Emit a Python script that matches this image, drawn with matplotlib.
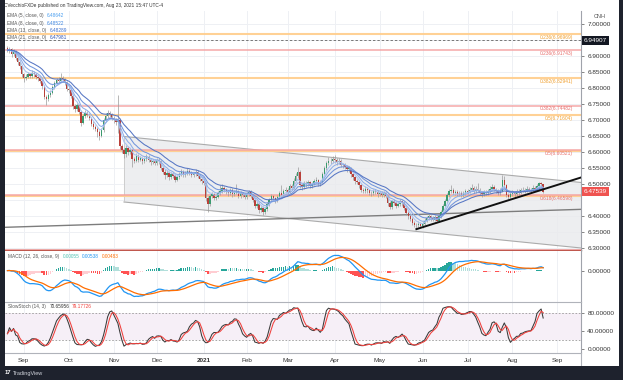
import numpy as np
import pandas as pd
import matplotlib
matplotlib.use('Agg')
import matplotlib.pyplot as plt
from matplotlib.patches import Polygon, Rectangle

plt.rcParams['font.family'] = ['Liberation Sans', 'DejaVu Sans']

# ---------------- data (USD/CNH daily) ----------------
start_date = '2020-08-20'
first_open = 6.925
close = [
    6.918, 6.922, 6.905, 6.915, 6.895, 6.880, 6.868, 6.842, 6.832, 6.835,
    6.842, 6.838, 6.848, 6.842, 6.835, 6.830, 6.822, 6.805, 6.772, 6.765,
    6.778, 6.785, 6.802, 6.815, 6.825, 6.822, 6.830, 6.828, 6.818, 6.798,
    6.792, 6.775, 6.742, 6.733, 6.745, 6.725, 6.690, 6.712, 6.722, 6.715,
    6.705, 6.688, 6.678, 6.672, 6.662, 6.650, 6.668, 6.700, 6.712, 6.722,
    6.718, 6.705, 6.698, 6.692, 6.700, 6.618, 6.605, 6.592, 6.612, 6.598,
    6.605, 6.578, 6.572, 6.588, 6.575, 6.580, 6.570, 6.578, 6.585, 6.575,
    6.568, 6.572, 6.565, 6.575, 6.570, 6.550, 6.538, 6.528, 6.535, 6.520,
    6.532, 6.525, 6.512, 6.520, 6.530, 6.538, 6.528, 6.532, 6.540, 6.535,
    6.528, 6.530, 6.538, 6.525, 6.515, 6.508, 6.502, 6.455, 6.438, 6.462,
    6.468, 6.455, 6.460, 6.470, 6.478, 6.488, 6.480, 6.475, 6.470, 6.482,
    6.468, 6.472, 6.478, 6.462, 6.470, 6.465, 6.458, 6.468, 6.475, 6.462,
    6.450, 6.432, 6.438, 6.418, 6.425, 6.412, 6.420, 6.438, 6.450, 6.462,
    6.455, 6.448, 6.458, 6.472, 6.465, 6.478, 6.482, 6.475, 6.492, 6.488,
    6.510, 6.525, 6.538, 6.495, 6.490, 6.502, 6.498, 6.505, 6.492, 6.500,
    6.508, 6.512, 6.498, 6.505, 6.532, 6.548, 6.565, 6.572, 6.570, 6.578,
    6.575, 6.568, 6.572, 6.560, 6.558, 6.552, 6.545, 6.548, 6.530, 6.520,
    6.508, 6.505, 6.495, 6.482, 6.478, 6.485, 6.480, 6.472, 6.470, 6.478,
    6.475, 6.468, 6.472, 6.465, 6.470, 6.462, 6.440, 6.428, 6.445, 6.440,
    6.432, 6.438, 6.445, 6.440, 6.425, 6.410, 6.398, 6.390, 6.378, 6.372,
    6.370, 6.375, 6.368, 6.375, 6.385, 6.392, 6.398, 6.392, 6.388, 6.395,
    6.385, 6.398, 6.412, 6.432, 6.445, 6.465, 6.478, 6.482, 6.470, 6.475,
    6.468, 6.472, 6.465, 6.470, 6.478, 6.475, 6.482, 6.488, 6.478, 6.485,
    6.480, 6.472, 6.468, 6.475, 6.470, 6.478, 6.485, 6.490, 6.482, 6.478,
    6.470, 6.478, 6.512, 6.495, 6.465, 6.460, 6.468, 6.472, 6.468, 6.478,
    6.472, 6.482, 6.480, 6.478, 6.485, 6.482, 6.478, 6.488, 6.482, 6.494,
    6.502, 6.498, 6.4754]
high = [
    6.930, 6.928, 6.926, 6.921, 6.918, 6.900, 6.886, 6.872, 6.848, 6.842,
    6.850, 6.848, 6.855, 6.852, 6.847, 6.840, 6.836, 6.828, 6.810, 6.778,
    6.784, 6.792, 6.808, 6.822, 6.832, 6.835, 6.847, 6.838, 6.832, 6.822,
    6.805, 6.798, 6.780, 6.750, 6.752, 6.750, 6.730, 6.718, 6.730, 6.728,
    6.720, 6.710, 6.695, 6.685, 6.678, 6.668, 6.675, 6.706, 6.720, 6.730,
    6.728, 6.722, 6.712, 6.705, 6.778, 6.705, 6.625, 6.612, 6.620, 6.618,
    6.612, 6.610, 6.585, 6.595, 6.592, 6.588, 6.585, 6.585, 6.592, 6.590,
    6.580, 6.578, 6.578, 6.582, 6.580, 6.575, 6.555, 6.545, 6.542, 6.540,
    6.538, 6.538, 6.530, 6.528, 6.536, 6.545, 6.542, 6.540, 6.548, 6.546,
    6.540, 6.538, 6.545, 6.542, 6.530, 6.520, 6.512, 6.505, 6.462, 6.468,
    6.475, 6.472, 6.468, 6.478, 6.495, 6.498, 6.492, 6.486, 6.480, 6.488,
    6.486, 6.480, 6.500, 6.482, 6.476, 6.475, 6.470, 6.475, 6.482, 6.480,
    6.466, 6.455, 6.445, 6.442, 6.432, 6.430, 6.428, 6.444, 6.456, 6.468,
    6.466, 6.460, 6.465, 6.478, 6.495, 6.485, 6.490, 6.488, 6.498, 6.500,
    6.518, 6.535, 6.552, 6.542, 6.502, 6.510, 6.508, 6.512, 6.510, 6.506,
    6.515, 6.520, 6.516, 6.512, 6.538, 6.555, 6.572, 6.585, 6.580, 6.586,
    6.590, 6.582, 6.580, 6.576, 6.566, 6.565, 6.558, 6.556, 6.552, 6.535,
    6.525, 6.515, 6.510, 6.500, 6.488, 6.492, 6.490, 6.485, 6.478, 6.485,
    6.484, 6.480, 6.478, 6.478, 6.476, 6.475, 6.466, 6.445, 6.450, 6.452,
    6.446, 6.445, 6.452, 6.450, 6.445, 6.430, 6.415, 6.405, 6.395, 6.384,
    6.378, 6.382, 6.380, 6.382, 6.392, 6.398, 6.404, 6.402, 6.398, 6.402,
    6.400, 6.404, 6.418, 6.438, 6.452, 6.472, 6.485, 6.496, 6.488, 6.482,
    6.480, 6.478, 6.476, 6.476, 6.485, 6.484, 6.490, 6.500, 6.492, 6.492,
    6.503, 6.486, 6.478, 6.482, 6.480, 6.485, 6.492, 6.498, 6.495, 6.488,
    6.484, 6.486, 6.527, 6.525, 6.500, 6.472, 6.475, 6.480, 6.478, 6.485,
    6.484, 6.488, 6.490, 6.486, 6.492, 6.490, 6.487, 6.495, 6.492, 6.498,
    6.506, 6.505, 6.500]
low = [
    6.912, 6.910, 6.898, 6.900, 6.888, 6.872, 6.860, 6.835, 6.818, 6.825,
    6.830, 6.830, 6.832, 6.835, 6.828, 6.822, 6.815, 6.798, 6.765, 6.748,
    6.758, 6.770, 6.780, 6.798, 6.810, 6.815, 6.818, 6.820, 6.810, 6.790,
    6.785, 6.768, 6.735, 6.726, 6.728, 6.718, 6.682, 6.686, 6.705, 6.708,
    6.698, 6.680, 6.670, 6.665, 6.645, 6.637, 6.645, 6.662, 6.695, 6.705,
    6.710, 6.698, 6.690, 6.684, 6.660, 6.608, 6.596, 6.580, 6.585, 6.590,
    6.592, 6.553, 6.565, 6.568, 6.568, 6.570, 6.562, 6.565, 6.572, 6.568,
    6.560, 6.562, 6.558, 6.560, 6.562, 6.542, 6.530, 6.515, 6.520, 6.512,
    6.515, 6.518, 6.505, 6.508, 6.515, 6.525, 6.520, 6.522, 6.528, 6.528,
    6.520, 6.522, 6.525, 6.518, 6.508, 6.500, 6.495, 6.445, 6.413, 6.432,
    6.455, 6.448, 6.450, 6.455, 6.465, 6.472, 6.474, 6.468, 6.462, 6.465,
    6.460, 6.462, 6.468, 6.455, 6.456, 6.458, 6.452, 6.452, 6.462, 6.455,
    6.442, 6.425, 6.425, 6.410, 6.412, 6.402, 6.406, 6.415, 6.432, 6.445,
    6.448, 6.440, 6.442, 6.452, 6.458, 6.460, 6.470, 6.468, 6.470, 6.480,
    6.484, 6.505, 6.518, 6.488, 6.482, 6.485, 6.490, 6.492, 6.486, 6.486,
    6.495, 6.502, 6.492, 6.494, 6.502, 6.528, 6.542, 6.560, 6.562, 6.565,
    6.566, 6.560, 6.562, 6.552, 6.550, 6.545, 6.538, 6.538, 6.522, 6.512,
    6.500, 6.498, 6.488, 6.475, 6.470, 6.472, 6.472, 6.465, 6.462, 6.465,
    6.468, 6.460, 6.462, 6.458, 6.460, 6.455, 6.432, 6.420, 6.422, 6.434,
    6.425, 6.428, 6.432, 6.432, 6.418, 6.402, 6.390, 6.382, 6.370, 6.365,
    6.358, 6.364, 6.362, 6.362, 6.370, 6.380, 6.386, 6.385, 6.382, 6.384,
    6.380, 6.382, 6.394, 6.408, 6.428, 6.440, 6.460, 6.472, 6.464, 6.466,
    6.462, 6.462, 6.458, 6.460, 6.465, 6.468, 6.470, 6.476, 6.472, 6.472,
    6.474, 6.465, 6.460, 6.462, 6.464, 6.465, 6.472, 6.480, 6.476, 6.470,
    6.464, 6.465, 6.474, 6.488, 6.458, 6.452, 6.455, 6.462, 6.460, 6.462,
    6.466, 6.468, 6.474, 6.472, 6.474, 6.476, 6.472, 6.474, 6.476, 6.480,
    6.490, 6.490, 6.470]

month_labels = ['Sep', 'Oct', 'Nov', 'Dec', '2021', 'Feb', 'Mar', 'Apr',
                'May', 'Jun', 'Jul', 'Aug', 'Sep']
month_starts = ['2020-09-01', '2020-10-01', '2020-11-02', '2020-12-01', '2021-01-01',
                '2021-02-01', '2021-03-01', '2021-04-01', '2021-05-03', '2021-06-01',
                '2021-07-01', '2021-08-02', '2021-09-01']

ema_periods = [5, 8, 13, 21]
ema_legend_vals = ['6.48642', '6.48522', '6.48289', '6.47981']
ema_colors = ['#a9c3f0', '#8eaee8', '#7195dc', '#5676c4']
ema_text_colors = ['#4a9ff0', '#3f86e0', '#3a6fd0', '#2f55b5']

fib_orange_lv = ['0.236', '0.382', '0.5', '0.618', '0.764']
fib_orange_px = [6.96969, 6.82941, 6.71604, 6.60265, 6.46237]
fib_orange_labeled = [True, True, True, False, False]
fib_red_lv = ['0.236', '0.382', '0.5', '0.618', '0.764']
fib_red_px = [6.91743, 6.74482, 6.60521, 6.46598, 6.29319]
fib_red_labeled = [True, True, True, True, False]

hline_dashed = 6.94907
last_price_label = '6.47539'

# drawn lines (date, price)
channel_upper = [('2020-11-09', 6.648), ('2021-08-23', 6.516)]
channel_lower = [('2020-11-09', 6.443), ('2021-08-23', 6.311)]
support_line = [('2020-08-20', 6.364), ('2021-08-23', 6.4163)]
trend_line = [('2021-05-27', 6.358), ('2021-08-23', 6.4825)]

macd_legend = ['0.00055', '0.00538', '0.00483']
stoch_legend = ['70.65956', '79.17726']

# ---------------- derived ----------------
n = len(close)
c = pd.Series(close)
o = pd.Series([first_open] + close[:-1])
h = pd.Series(high)
l = pd.Series(low)
idx = np.arange(n)


def pos(d):
    return float(np.busday_count(np.datetime64(start_date), np.datetime64(d)))


W, H = 623, 380
fig = plt.figure(figsize=(W / 100, H / 100), dpi=100)
fig.patch.set_facecolor('white')


def axpos(x0, y0, x1, y1):
    return [x0 / W, 1 - y1 / H, (x1 - x0) / W, (y1 - y0) / H]


def ftext(x, y, s, **kw):
    kw.setdefault('va', 'center')
    return fig.text(x / W, 1 - y / H, s, **kw)


ax_p = fig.add_axes(axpos(5, 11, 581, 250.5))
ax_m = fig.add_axes(axpos(5, 250.5, 581, 301.7))
ax_s = fig.add_axes(axpos(5, 301.7, 581, 352.7))


def chain(ax, prev, s, color, fs, gap=1.2):
    return ax.annotate(s, xy=(1, 0.5), xycoords=prev, xytext=(gap, 0),
                       textcoords='offset points', ha='left', va='center',
                       fontsize=fs, color=color, annotation_clip=False, zorder=20)


xl = (-1.19, 280.5)
month_pos = [pos(d) for d in month_starts]
grid_c = '#eef0f4'
for ax in (ax_p, ax_m, ax_s):
    ax.set_xlim(*xl)
    ax.set_facecolor('white')
    for sp in ('left', 'top', 'bottom'):
        ax.spines[sp].set_visible(False)
    ax.spines['right'].set_color('#a0a3ab')
    ax.spines['right'].set_linewidth(0.8)
    ax.yaxis.tick_right()
    ax.tick_params(axis='y', labelsize=4.6, length=2.5, width=0.5, colors='#555555',
                   labelcolor='#333333', pad=2)
    ax.set_xticks(month_pos)
    for mp in month_pos:
        ax.axvline(mp, color=grid_c, lw=0.7, zorder=0)
ax_p.tick_params(axis='x', length=0, labelbottom=False)
ax_m.tick_params(axis='x', length=0, labelbottom=False)

# ---------------- price panel ----------------
ax_p.set_ylim(6.2912, 7.0406)
pticks = [6.30, 6.35, 6.40, 6.50, 6.55, 6.60, 6.65, 6.70, 6.75, 6.80, 6.85, 6.90, 7.00]
ax_p.set_yticks(pticks)
ax_p.set_yticklabels(['%.5f' % t for t in pticks])
for t in np.arange(6.30, 7.04, 0.05):
    ax_p.axhline(t, color=grid_c, lw=0.7, zorder=0)

x_edge = xl[1]


def extend(pts, to_x):
    (d0, p0), (d1, p1) = pts
    x0, x1 = pos(d0), pos(d1)
    slope = (p1 - p0) / (x1 - x0)
    return (x0, p0), (to_x, p0 + slope * (to_x - x0))


(ux0, uy0), (ux1, uy1) = extend(channel_upper, x_edge)
(lx0, ly0), (lx1, ly1) = extend(channel_lower, x_edge)
ax_p.add_patch(Polygon([(ux0, uy0), (ux1, uy1), (lx1, ly1), (lx0, ly0)],
                       closed=True, fc='#eaebee', ec='none', alpha=0.85, zorder=1))
ax_p.plot([ux0, ux1], [uy0, uy1], color='#ababab', lw=0.8, zorder=2)
ax_p.plot([lx0, lx1], [ly0, ly1], color='#ababab', lw=0.8, zorder=2)
ax_p.plot([ux0, lx0], [uy0, ly0], color='#c8c8c8', lw=0.6, zorder=2)

for lv, px, lab in zip(fib_orange_lv, fib_orange_px, fib_orange_labeled):
    ax_p.axhline(px, color='#ffcf8f', lw=1.5, zorder=2, alpha=0.95)
    if lab:
        ax_p.text(276.5, px - 0.003, '%s(%.5f)' % (lv, px), ha='right', va='top',
                  fontsize=3.5, color='#f0a030', zorder=6)
for lv, px, lab in zip(fib_red_lv, fib_red_px, fib_red_labeled):
    ax_p.axhline(px, color='#f5a3a3', lw=1.1, zorder=2, alpha=0.95)
    if lab:
        ax_p.text(276.5, px - 0.003, '%s(%.5f)' % (lv, px), ha='right', va='top',
                  fontsize=3.5, color='#e8706e', zorder=6)
ax_p.axhline(fib_red_px[-1], color='#c0584e', lw=1.0, zorder=3, clip_on=False)

ax_p.axhline(hline_dashed, color='#777777', lw=0.7, ls=(0, (2.5, 2)), zorder=3)

(sx0, sy0), (sx1, sy1) = [(pos(d), p) for d, p in support_line]
ax_p.axline((sx0, sy0), (sx1, sy1), color='#7d7d7d', lw=1.0, zorder=3)
(tx0, ty0), (tx1, ty1) = extend(trend_line, x_edge)
ax_p.plot([tx0, tx1], [ty0, ty1], color='#111111', lw=1.4, zorder=5)

up = c >= o
col_up, col_dn = '#3a9a6e', '#b9403a'
ax_p.vlines(idx, l, h, color='#9a9a9a', lw=0.5, zorder=3)
body_bottom = np.minimum(o, c)
body_h = np.maximum(np.abs(c - o), 0.0012)
ax_p.bar(idx, body_h, bottom=body_bottom, width=0.68,
         color=np.where(up, col_up, col_dn), edgecolor='none', zorder=4)

for per, colr in zip(ema_periods, ema_colors):
    e = c.ewm(span=per, adjust=False).mean()
    ax_p.plot(idx, e, color=colr, lw=0.75, zorder=4.5)

# ---------------- MACD ----------------
macd = c.ewm(span=12, adjust=False).mean() - c.ewm(span=26, adjust=False).mean()
sig = macd.ewm(span=9, adjust=False).mean()
hist = macd - sig
s = 0.0016
ax_m.set_ylim(-31.2 * s, 20.2 * s)
ax_m.set_yticks([0])
ax_m.set_yticklabels(['0.00000'])
hcols = []
prev = 0.0
for v in hist:
    if v >= 0:
        hcols.append('#26a69a' if v >= prev else '#b2dfdb')
    else:
        hcols.append('#ff5252' if v <= prev else '#ffcdd2')
    prev = v
ax_m.bar(idx, hist, width=0.75, color=hcols, edgecolor='none', zorder=2)
ax_m.plot(idx, macd, color='#2196f3', lw=0.9, zorder=3)
ax_m.plot(idx, sig, color='#ff6d00', lw=0.9, zorder=3)

# ---------------- Stoch ----------------
ll = l.rolling(14, min_periods=1).min()
hh = h.rolling(14, min_periods=1).max()
raw = 100 * (c - ll) / (hh - ll)
k = raw.rolling(3, min_periods=1).mean()
d = k.rolling(3, min_periods=1).mean()
ax_s.set_ylim(-8.9, 104.4)
ax_s.set_yticks([0, 40, 80])
ax_s.set_yticklabels(['0.00000', '40.00000', '80.00000'])
ax_s.axhspan(20, 80, color='#f6eff7', zorder=0.5, lw=0)
for lvl in (20, 80):
    ax_s.axhline(lvl, color='#9a9a9a', lw=0.6, ls=(0, (2, 2)), zorder=1)
ax_s.plot(idx, k, color='#3a3a3a', lw=0.75, zorder=3)
ax_s.plot(idx, d, color='#f0403c', lw=0.75, zorder=3)

ax_s.set_xticks(month_pos)
ax_s.set_xticklabels(month_labels)
ax_s.tick_params(axis='x', length=0, labelsize=4.6, labelcolor='#333333', pad=3.5)
for tl in ax_s.get_xticklabels():
    if tl.get_text() == '2021':
        tl.set_fontweight('bold')

fig.add_artist(plt.Line2D([5 / W, 581 / W], [1 - 301.7 / H] * 2, color='#b0b3ba', lw=0.8))
fig.add_artist(plt.Line2D([5 / W, 581 / W], [1 - 352.9 / H] * 2, color='#b0b3ba', lw=0.8))
fig.add_artist(plt.Line2D([581 / W] * 2, [1 - 352.9 / H, 1 - 366 / H], color='#b0b3ba', lw=0.8))

# ---------------- text ----------------
fs_leg = 3.4
ftext(3.5, 5, 'CVecchioFXDe published on TradingView.com, Aug 23, 2021 15:47 UTC-4',
      fontsize=3.4, color='#333333')
ftext(600, 16.5, 'CNH', fontsize=4.0, color='#555555', ha='center')
rows_y = [15.8, 23.2, 30.6, 37.2]
for per, val, tc, yy in zip(ema_periods, ema_legend_vals, ema_text_colors, rows_y):
    t = ftext(7, yy, 'EMA (%d, close, 0)' % per, fontsize=fs_leg, color='#555555')
    chain(ax_p, t, val, tc, fs_leg, gap=2.5)

t = ftext(8, 256.8, 'MACD (12, 26, close, 9)', fontsize=fs_leg, color='#555555')
t = chain(ax_m, t, macd_legend[0], '#4fc3b4', fs_leg, gap=2.5)
t = chain(ax_m, t, macd_legend[1], '#2196f3', fs_leg, gap=2.0)
chain(ax_m, t, macd_legend[2], '#ff6d00', fs_leg, gap=2.0)

t = ftext(8, 306.8, 'SlowStoch (14, 3)', fontsize=fs_leg, color='#555555')
t = chain(ax_s, t, stoch_legend[0], '#333333', fs_leg, gap=2.5)
chain(ax_s, t, stoch_legend[1], '#f0403c', fs_leg, gap=2.0)

ftext(584, 247.7 - (hline_dashed - 6.30) * 319.6, '%.5f' % hline_dashed,
      fontsize=4.6, color='white',
      bbox=dict(boxstyle='square,pad=0.3', fc='#131722', ec='none'))
ftext(584, 247.7 - (float(last_price_label) - 6.30) * 319.6, last_price_label,
      fontsize=4.6, color='white',
      bbox=dict(boxstyle='square,pad=0.3', fc='#ef5350', ec='none'))

fig.add_artist(Rectangle((0, 0), 4.5 / W, 1, transform=fig.transFigure,
                         fc='#1e222d', ec='none', zorder=10))
fig.add_artist(Rectangle((619 / W, 0), 4 / W, 1, transform=fig.transFigure,
                         fc='#1e222d', ec='none', zorder=10))
fig.add_artist(Rectangle((0, 0), 1, 14 / H, transform=fig.transFigure,
                         fc='#1e222d', ec='none', zorder=10))
ftext(5, 373, '17', fontsize=4.2, color='white', fontweight='bold', zorder=11)
ftext(13, 373, 'TradingView', fontsize=4.0, color='#d1d4dc', zorder=11)

fig.savefig('out.png', dpi=100, facecolor='white')
